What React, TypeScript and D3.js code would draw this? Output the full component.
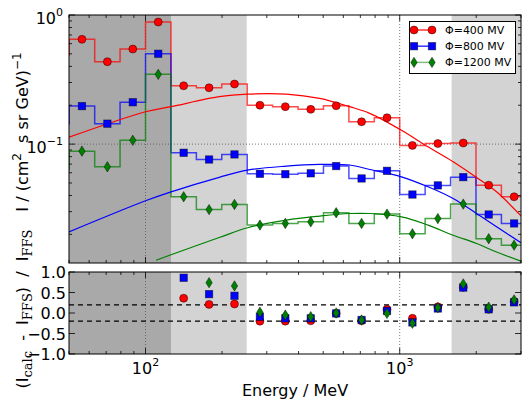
import React from 'react';
import * as d3 from 'd3';

// energy bin edges (MeV); first bin lies left of the plotted range
const binEdges = [39.8, 50.1, 63.1, 79.4, 100, 125.9, 158.5, 199.5, 251.2, 316.2, 398.1, 501.2, 631.0, 794.3, 1000, 1258.9, 1584.9, 1995.3, 2511.9, 3162.3];

// measured intensity per bin
const flux400 = [0.49, 0.648, 0.435, 0.545, 0.882, 0.283, 0.273, 0.292, 0.200, 0.195, 0.186, 0.198, 0.149, 0.160, 0.0977, 0.101, 0.102, 0.0481, 0.0391];
const flux800 = [0.144, 0.197, 0.144, 0.211, 0.501, 0.0857, 0.076, 0.0832, 0.0589, 0.0585, 0.0594, 0.0676, 0.0542, 0.0621, 0.0407, 0.0479, 0.0555, 0.0285, 0.0243];
const flux1200 = [0.0637, 0.0882, 0.0667, 0.107, 0.347, 0.0391, 0.0311, 0.0341, 0.0236, 0.0243, 0.025, 0.0294, 0.0243, 0.0287, 0.0202, 0.0265, 0.0343, 0.0185, 0.0165];

// force-field model curves (sampled)
const modelE400 = [50, 100, 126, 195, 252, 358, 484, 635, 762, 1016, 1292, 1622, 2005, 2404, 3000];
const model400 = [0.113, 0.178, 0.195, 0.233, 0.244, 0.244, 0.226, 0.195, 0.173, 0.128, 0.0953, 0.073, 0.0552, 0.0427, 0.0278];
const modelE800 = [50, 100, 126, 195, 252, 358, 484, 635, 762, 1016, 1292, 1622, 2005, 2404, 3000];
const model800 = [0.0209, 0.0364, 0.0427, 0.0553, 0.0629, 0.0675, 0.0696, 0.0689, 0.0636, 0.0558, 0.0467, 0.0379, 0.029, 0.0229, 0.0172];
const modelE1200 = [110, 126, 195, 252, 358, 484, 635, 762, 1016, 1292, 1622, 2005, 2404, 3000];
const model1200 = [0.0126, 0.0139, 0.0189, 0.0225, 0.0258, 0.0277, 0.029, 0.029, 0.0273, 0.0236, 0.0197, 0.017, 0.0146, 0.0124];

// relative residuals (null = off scale)
const resid400 = [null, null, null, null, null, 0.36, 0.21, 0.22, -0.2, -0.2, -0.19, -0.01, -0.19, 0.09, -0.13, 0.15, 0.63, 0.09, 0.28];
const resid800 = [null, null, null, null, null, 0.86, 0.46, 0.42, -0.09, -0.13, -0.13, -0.01, -0.17, 0.05, -0.23, 0.11, 0.62, 0.09, 0.26];
const resid1200 = [null, null, null, null, null, null, 0.74, 0.66, 0.02, -0.05, -0.09, 0.0, -0.17, -0.01, -0.25, 0.13, 0.71, 0.14, 0.32];

const seriesNames = ['Φ=400 MV', 'Φ=800 MV', 'Φ=1200 MV'];
const seriesColors = ['#ff0000', '#0000ff', '#008000'];
const seriesMarkers = ['circle', 'square', 'diamond'];

// shaded energy ranges
const darkBand = [50, 126];
const lightBands = [[126, 250], [1600, 3000]];

const xMajor = [100, 1000];
const xMinor = [50, 60, 70, 80, 90, 200, 300, 400, 500, 600, 700, 800, 900, 2000, 3000];
const yMajor = [1, 0.1];
const yMinor = [0.02, 0.03, 0.04, 0.05, 0.06, 0.07, 0.08, 0.09, 0.2, 0.3, 0.4, 0.5, 0.6, 0.7, 0.8, 0.9];
const rTicks = [1.0, 0.5, 0.0, -0.5, -1.0];

const W = 532, H = 399;
const L = 69, R = 521;
const T1 = 15, B1 = 263;
const T2 = 272, B2 = 354;
const font = 'DejaVu Sans';

function Marker({ kind, x, y, color }) {
  const edge = { stroke: 'rgba(0,0,0,0.55)', strokeWidth: 0.8 };
  if (kind === 'circle') return <circle cx={x} cy={y} r={4} fill={color} {...edge} />;
  if (kind === 'square') return <rect x={x - 3.7} y={y - 3.7} width={7.4} height={7.4} fill={color} {...edge} />;
  return <path d={`M${x},${y - 5.2}L${x + 3.2},${y}L${x},${y + 5.2}L${x - 3.2},${y}Z`} fill={color} {...edge} />;
}

export default function App() {
  const x = d3.scaleLog().domain([50, 3000]).range([L, R]);
  const y = d3.scaleLog().domain([0.012, 1]).range([B1, T1]);
  const yr = d3.scaleLinear().domain([-1, 1]).range([B2, T2]);

  const fluxes = [flux400, flux800, flux1200];
  const models = [[modelE400, model400], [modelE800, model800], [modelE1200, model1200]];
  const resids = [resid400, resid800, resid1200];
  const centers = binEdges.slice(0, -1).map((e, i) => Math.sqrt(e * binEdges[i + 1]));

  const stepLine = d3.line().x(d => x(d[0])).y(d => y(d[1])).curve(d3.curveStepAfter);
  const modelLine = d3.line().x(d => x(d[0])).y(d => y(d[1])).curve(d3.curveCatmullRom);

  const stepPts = f => [...f.map((v, i) => [binEdges[i], v]), [binEdges[binEdges.length - 1], f[f.length - 1]]];

  const bands = (top, bot) => (
    <g>
      <rect x={x(darkBand[0])} y={top} width={x(darkBand[1]) - x(darkBand[0])} height={bot - top} fill="#a9a9a9" />
      {lightBands.map((b, i) => (
        <rect key={i} x={x(b[0])} y={top} width={x(b[1]) - x(b[0])} height={bot - top} fill="#d3d3d3" />
      ))}
    </g>
  );

  const xTicks = (top, bot) => (
    <g stroke="#000" strokeWidth={0.8}>
      {xMajor.map(v => (
        <g key={v}>
          <line x1={x(v)} x2={x(v)} y1={bot} y2={bot - 6} />
          <line x1={x(v)} x2={x(v)} y1={top} y2={top + 6} />
        </g>
      ))}
      {xMinor.map(v => (
        <g key={v}>
          <line x1={x(v)} x2={x(v)} y1={bot} y2={bot - 3} />
          <line x1={x(v)} x2={x(v)} y1={top} y2={top + 3} />
        </g>
      ))}
    </g>
  );

  const xGrid = (top, bot) => xMajor.map(v => (
    <line key={v} x1={x(v)} x2={x(v)} y1={top} y2={bot} stroke="#555" strokeWidth={0.8} strokeDasharray="1,2" />
  ));

  return (
    <svg width={W} height={H} style={{ position: 'absolute', left: 0, top: 0, background: '#fff' }} fontFamily={font}>
      <defs>
        <clipPath id="c1"><rect x={L} y={T1} width={R - L} height={B1 - T1} /></clipPath>
        <clipPath id="c2"><rect x={L} y={T2} width={R - L} height={B2 - T2} /></clipPath>
      </defs>

      {/* upper panel */}
      <g clipPath="url(#c1)">
        {bands(T1, B1)}
        {xGrid(T1, B1)}
        <line x1={L} x2={R} y1={y(0.1)} y2={y(0.1)} stroke="#555" strokeWidth={0.8} strokeDasharray="1,2" />
        {fluxes.map((f, s) => (
          <path key={'st' + s} d={stepLine(stepPts(f))} fill="none" stroke={seriesColors[s]} strokeOpacity={0.7} strokeWidth={1.5} />
        ))}
        {models.map((m, s) => (
          <path key={'m' + s} d={modelLine(m[0].map((e, i) => [e, m[1][i]]))} fill="none" stroke={seriesColors[s]} strokeWidth={1.2} />
        ))}
        {fluxes.map((f, s) => f.map((v, i) => (
          <Marker key={s + '-' + i} kind={seriesMarkers[s]} x={x(centers[i])} y={y(v)} color={seriesColors[s]} />
        )))}
      </g>
      {xTicks(T1, B1)}
      <g stroke="#000" strokeWidth={0.8}>
        {yMajor.map(v => (
          <g key={v}>
            <line x1={L} x2={L + 6} y1={y(v)} y2={y(v)} />
            <line x1={R} x2={R - 6} y1={y(v)} y2={y(v)} />
          </g>
        ))}
        {yMinor.map(v => (
          <g key={v}>
            <line x1={L} x2={L + 3} y1={y(v)} y2={y(v)} />
            <line x1={R} x2={R - 3} y1={y(v)} y2={y(v)} />
          </g>
        ))}
      </g>
      <rect x={L} y={T1} width={R - L} height={B1 - T1} fill="none" stroke="#000" strokeWidth={1} />
      {yMajor.map(v => (
        <text key={v} x={L - 6} y={y(v) + 9} textAnchor="end" fontSize={16}>
          10<tspan dy={-8} fontSize={11}>{v === 1 ? '0' : '−1'}</tspan>
        </text>
      ))}

      {/* legend */}
      <g>
        <rect x={409.5} y={21.5} width={106} height={52} fill="#fff" stroke="#000" strokeWidth={1} />
        {seriesNames.map((n, s) => {
          const ly = 30 + s * 16.2;
          return (
            <g key={n}>
              <line x1={414} x2={432} y1={ly} y2={ly} stroke={seriesColors[s]} strokeOpacity={s === 2 ? 0.5 : 0.8} strokeWidth={1.5} />
              <Marker kind={seriesMarkers[s]} x={414} y={ly} color={seriesColors[s]} />
              <Marker kind={seriesMarkers[s]} x={432} y={ly} color={seriesColors[s]} />
              <text x={445} y={ly + 4} fontSize={11}>{n}</text>
            </g>
          );
        })}
      </g>

      {/* lower panel */}
      <g clipPath="url(#c2)">
        {bands(T2, B2)}
        {xGrid(T2, B2)}
        {[0.2, -0.2].map(v => (
          <line key={v} x1={L} x2={R} y1={yr(v)} y2={yr(v)} stroke="#000" strokeWidth={1.3} strokeDasharray="5,4" />
        ))}
        {resids.map((r, s) => r.map((v, i) => v === null ? null : (
          <Marker key={s + '-' + i} kind={seriesMarkers[s]} x={x(centers[i])} y={yr(v)} color={seriesColors[s]} />
        )))}
      </g>
      {xTicks(T2, B2)}
      <g stroke="#000" strokeWidth={0.8}>
        {rTicks.map(v => (
          <g key={v}>
            <line x1={L} x2={L + 6} y1={yr(v)} y2={yr(v)} />
            <line x1={R} x2={R - 6} y1={yr(v)} y2={yr(v)} />
          </g>
        ))}
      </g>
      <rect x={L} y={T2} width={R - L} height={B2 - T2} fill="none" stroke="#000" strokeWidth={1} />
      {rTicks.map(v => (
        <text key={v} x={L - 3} y={yr(v) + 6} textAnchor="end" fontSize={16}>
          {d3.format('.1f')(v).replace('-', '−')}
        </text>
      ))}
      {xMajor.map(v => (
        <text key={v} x={x(v)} y={374} textAnchor="middle" fontSize={16}>
          10<tspan dy={-8} fontSize={11}>{Math.round(Math.log10(v))}</tspan>
        </text>
      ))}

      {/* axis labels */}
      <text x={(L + R) / 2} y={396} textAnchor="middle" fontSize={16}>Energy / MeV</text>
      <text transform="translate(28,132) rotate(-90)" textAnchor="middle" fontSize={16} style={{ whiteSpace: 'pre' }}>
        I / (cm<tspan dy={-7} fontSize={12}>2</tspan><tspan dy={7}>{'\u00a0\u00a0s sr GeV)'}</tspan><tspan dy={-7} fontSize={12}>−1</tspan>
      </text>
      <text transform="translate(28,309) rotate(-90)" textAnchor="middle" fontSize={16} style={{ whiteSpace: 'pre' }}>
        (I<tspan dy={4} fontSize={13} fontFamily="DejaVu Serif">calc</tspan><tspan dy={-4}>  -  I</tspan><tspan dy={4} fontSize={13} fontFamily="DejaVu Serif">FFS</tspan><tspan dy={-4}>)  /  I</tspan><tspan dy={4} fontSize={13} fontFamily="DejaVu Serif">FFS</tspan>
      </text>
    </svg>
  );
}
